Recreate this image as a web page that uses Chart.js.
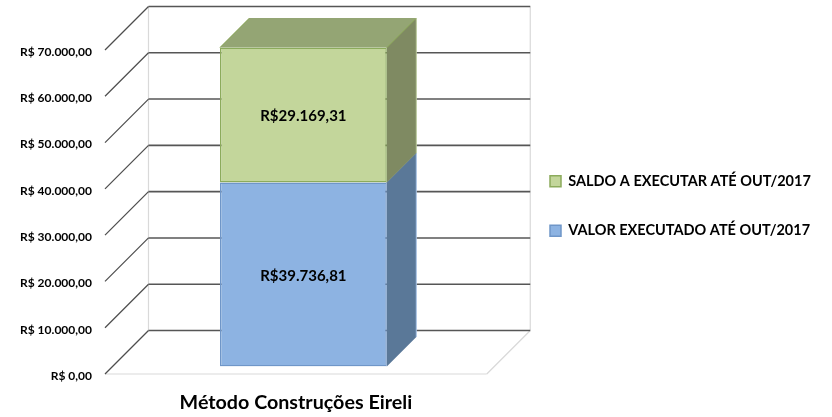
<!DOCTYPE html>
<html>
<head>
<meta charset="utf-8">
<style>
  html, body { margin: 0; padding: 0; background: #fff; }
  canvas { display: block; }
</style>
<script src="https://cdn.jsdelivr.net/npm/chart.js@4/dist/chart.umd.min.js"></script>
</head>
<body>
<canvas id="grafico" width="832" height="417"></canvas>
<script>
// Dados do gráfico
const categorias = ['Método Construções Eireli'];
const valorExecutado = [39736.81];
const saldoExecutar = [29169.31];
const nomeExecutado = 'VALOR EXECUTADO ATÉ OUT/2017';
const nomeSaldo = 'SALDO A EXECUTAR ATÉ OUT/2017';

const fonte = 'Lato';

// Profundidade do efeito 3D
const paredeDx = 43.5, paredeDy = 43.5;   // parede do fundo em relação ao plano da frente
const barraRecuo = 7.5;                   // recuo da barra em relação ao plano da frente
const barraProf = 29.5;                   // profundidade da barra
const legendaPadding = 35;

const coresFace = [
    { lado: '#5a7898', topo: '#5a7898', aresta: '#6f93bf' },
    { lado: '#7f8a62', topo: '#94a574', aresta: '#83a24f' }
];

function poligono(ctx, pontos, cor, aresta) {
    ctx.beginPath();
    pontos.forEach((p, i) => i ? ctx.lineTo(p[0], p[1]) : ctx.moveTo(p[0], p[1]));
    ctx.closePath();
    ctx.fillStyle = cor;
    ctx.fill();
    if (aresta) {
        ctx.strokeStyle = aresta;
        ctx.lineWidth = 1;
        ctx.stroke();
    }
}

function linha(ctx, x1, y1, x2, y2, cor, largura) {
    ctx.beginPath();
    ctx.moveTo(x1, y1);
    ctx.lineTo(x2, y2);
    ctx.strokeStyle = cor;
    ctx.lineWidth = largura;
    ctx.stroke();
}

// Paredes, grade e faces laterais da barra
const plugin3d = {
    id: 'plugin3d',
    afterLayout(chart) {
        // Legenda fica mais à direita do que o layout padrão
        const leg = chart.legend;
        leg.left = 550 - legendaPadding;
        leg.right = 832;
        leg.top = 174 - legendaPadding;
        leg.bottom = 417;
    },
    beforeDatasetsDraw(chart) {
        const { ctx, chartArea: a, scales: { y } } = chart;
        ctx.save();
        // parede e chão
        linha(ctx, a.left + paredeDx, y.getPixelForValue(70000) - paredeDy, a.left + paredeDx, a.bottom - paredeDy, '#d9d9d9', 1.2);
        linha(ctx, a.right + paredeDx, y.getPixelForValue(70000) - paredeDy, a.right + paredeDx, a.bottom - paredeDy, '#d9d9d9', 1.2);
        linha(ctx, a.left, a.bottom, a.right, a.bottom, '#d9d9d9', 1.2);
        linha(ctx, a.right, a.bottom, a.right + paredeDx, a.bottom - paredeDy, '#d9d9d9', 1.2);
        // grade
        y.ticks.forEach(t => {
            const py = y.getPixelForValue(t.value);
            linha(ctx, a.left, py, a.left + paredeDx, py - paredeDy, '#4d4d4d', 1.2);
            linha(ctx, a.left + paredeDx, py - paredeDy, a.right + paredeDx, py - paredeDy, '#565656', 1.6);
        });
        // faces laterais e topo
        chart.data.datasets.forEach((ds, i) => {
            const b = chart.getDatasetMeta(i).data[0];
            const dir = b.x + b.width / 2 + barraRecuo;
            const esq = b.x - b.width / 2 + barraRecuo;
            const topo = b.y - barraRecuo;
            const base = b.base - barraRecuo;
            const cor = coresFace[i];
            poligono(ctx, [[dir, base], [dir + barraProf, base - barraProf], [dir + barraProf, topo - barraProf], [dir, topo]], cor.lado);
            if (i === chart.data.datasets.length - 1) {
                poligono(ctx, [[esq, topo], [esq + barraProf, topo - barraProf], [dir + barraProf, topo - barraProf], [dir, topo]], cor.topo);
                linha(ctx, dir, topo, dir + barraProf, topo - barraProf, cor.aresta, 1);
                linha(ctx, esq, topo, esq + barraProf, topo - barraProf, cor.aresta, 1);
            } else {
                linha(ctx, dir, topo, dir + barraProf, topo - barraProf, cor.lado, 1);
            }
            linha(ctx, dir + barraProf, base - barraProf, dir + barraProf, topo - barraProf, i ? '#b9c99a' : '#a9c4e6', 1);
        });
        // barras deslocadas para dentro do plano 3D
        ctx.translate(barraRecuo, -barraRecuo);
    },
    afterDatasetsDraw(chart) {
        const { ctx } = chart;
        // rótulos de valor
        ctx.font = 'bold 15px ' + fonte;
        ctx.fillStyle = '#000';
        ctx.textAlign = 'center';
        ctx.textBaseline = 'middle';
        chart.data.datasets.forEach((ds, i) => {
            const b = chart.getDatasetMeta(i).data[0];
            const texto = 'R$' + ds.data[0].toLocaleString('pt-BR', { minimumFractionDigits: 2 });
            ctx.fillText(texto, b.x, (b.y + b.base) / 2 + 1.5);
        });
        ctx.restore();
    }
};

new Chart(document.getElementById('grafico'), {
    type: 'bar',
    data: {
        labels: categorias,
        datasets: [
            { label: nomeExecutado, data: valorExecutado, backgroundColor: '#8db3e2', borderColor: '#6f96c8', borderWidth: 1.5, borderSkipped: false, barPercentage: 0.437, categoryPercentage: 1 },
            { label: nomeSaldo, data: saldoExecutar, backgroundColor: '#c3d69b', borderColor: '#8cab5c', borderWidth: 1.5, borderSkipped: false, barPercentage: 0.437, categoryPercentage: 1 }
        ]
    },
    options: {
        responsive: false,
        animation: false,
        layout: { padding: { top: 50, left: 0, right: 183, bottom: 0 } },
        scales: {
            x: {
                stacked: true,
                afterFit: s => { s.height = 43; },
                grid: { display: false },
                border: { display: false },
                ticks: { color: '#000', padding: 9, maxRotation: 0, font: { family: fonte, weight: 'bold', size: 19.7 } }
            },
            y: {
                stacked: true,
                min: 0,
                max: 70000,
                afterFit: s => { s.width = 105; },
                grid: { display: false },
                border: { display: false },
                ticks: {
                    stepSize: 10000,
                    padding: 5,
                    labelOffset: 2,
                    color: '#000',
                    font: { family: fonte, weight: 'bold', size: 12 },
                    callback: v => 'R$ ' + v.toLocaleString('pt-BR', { minimumFractionDigits: 2 })
                }
            }
        },
        plugins: {
            tooltip: { enabled: false },
            legend: {
                position: 'right',
                align: 'start',
                reverse: true,
                labels: {
                    boxWidth: 11,
                    boxHeight: 11,
                    padding: legendaPadding,
                    color: '#000',
                    font: { family: fonte, weight: 'bold', size: 14.5 }
                }
            }
        }
    },
    plugins: [plugin3d]
});
</script>
</body>
</html>
